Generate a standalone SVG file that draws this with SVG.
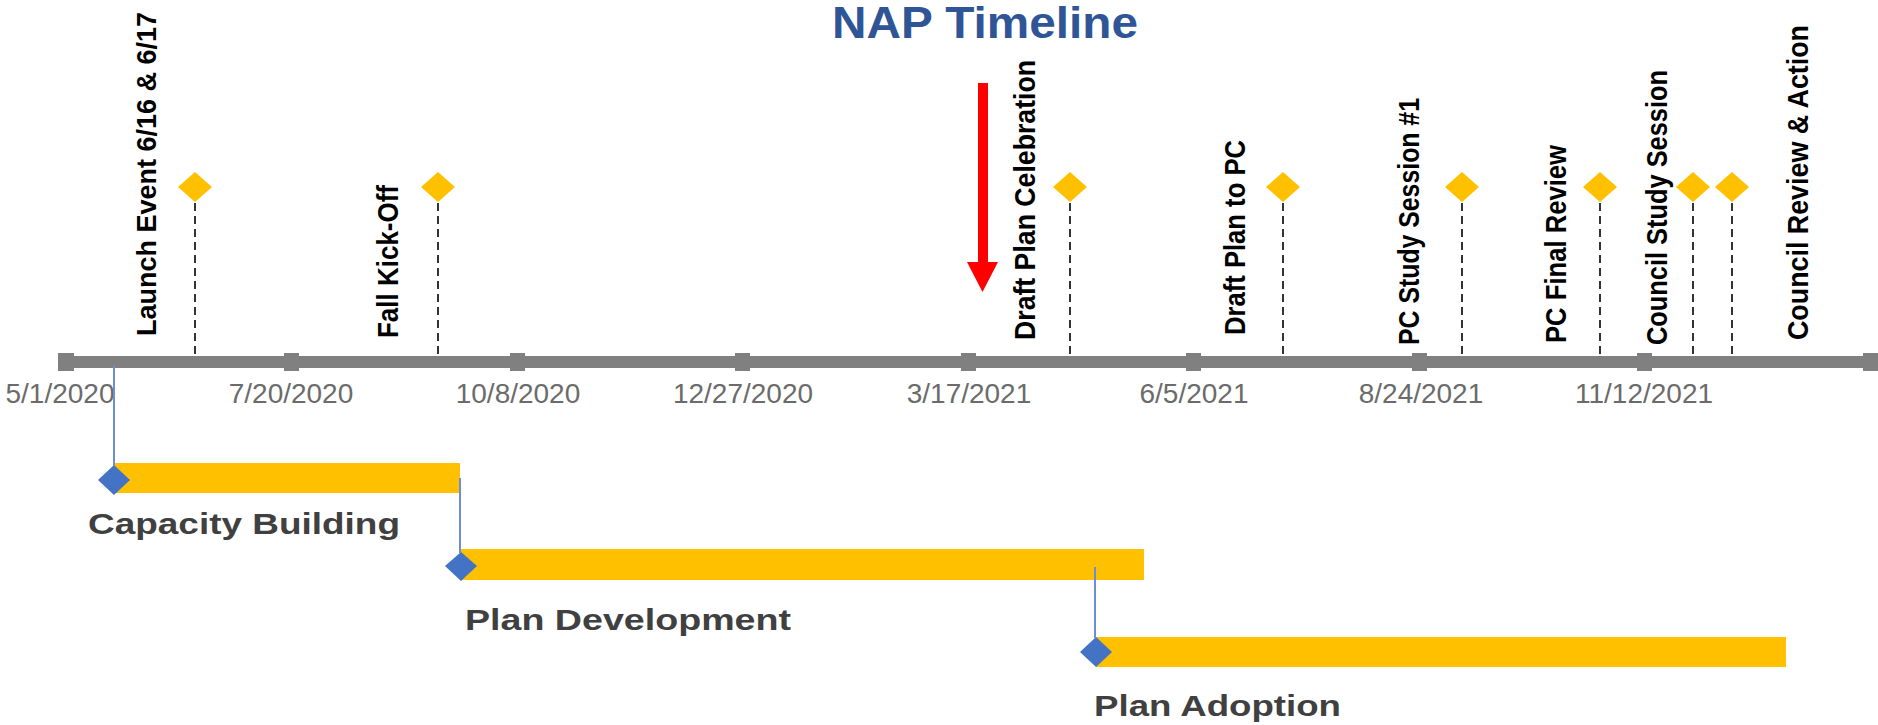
<svg xmlns="http://www.w3.org/2000/svg" width="1878" height="725" viewBox="0 0 1878 725">
<style>
.ev{font-family:"Liberation Sans",Arial,sans-serif;font-weight:bold;font-size:29px;fill:#000}
.dt{font-family:"Liberation Sans",Arial,sans-serif;font-size:28px;fill:#6b6b6b;text-anchor:middle}
.ph{font-family:"Liberation Sans",Arial,sans-serif;font-weight:bold;font-size:29px;fill:#404040}
.ttl{font-family:"Liberation Sans",Arial,sans-serif;font-weight:bold;font-size:45px;fill:#2F5597}
.gd{fill:#FFC000}
.bar{fill:#FFC000}
.bd{fill:#4472C4}
.tick{fill:#808080}
.dash{stroke:#333;stroke-width:2;stroke-dasharray:8 5;fill:none}
.bl{stroke:#6A8FD8;stroke-width:2;fill:none}
</style>
<rect width="1878" height="725" fill="#fff"/>
<g id="title"><text class="ttl" x="832" y="38" textLength="306" lengthAdjust="spacingAndGlyphs">NAP Timeline</text></g>
<g id="axis">
<rect x="58" y="356" width="1820" height="12" fill="#808080"/>
<rect class="tick" x="58" y="353" width="16" height="18"/>
<rect class="tick" x="284" y="353" width="15" height="18"/>
<rect class="tick" x="510" y="353" width="15" height="18"/>
<rect class="tick" x="735" y="353" width="15" height="18"/>
<rect class="tick" x="961" y="353" width="15" height="18"/>
<rect class="tick" x="1186" y="353" width="15" height="18"/>
<rect class="tick" x="1412" y="353" width="15" height="18"/>
<rect class="tick" x="1637" y="353" width="15" height="18"/>
<rect class="tick" x="1863" y="353" width="15" height="18"/>
<text class="dt" x="60" y="403">5/1/2020</text>
<text class="dt" x="291" y="403">7/20/2020</text>
<text class="dt" x="518" y="403">10/8/2020</text>
<text class="dt" x="743" y="403">12/27/2020</text>
<text class="dt" x="969" y="403">3/17/2021</text>
<text class="dt" x="1194" y="403">6/5/2021</text>
<text class="dt" x="1421" y="403">8/24/2021</text>
<text class="dt" x="1644" y="403">11/12/2021</text>
</g>
<g id="phase-capacity">
<rect class="bar" x="114" y="463" width="346" height="30"/>
<polygon class="bd" points="114,465 130,480 114,495 98,480"/>
<text class="ph" x="88" y="534" textLength="312" lengthAdjust="spacingAndGlyphs">Capacity Building</text>
</g>
<g id="phase-development">
<rect class="bar" x="461" y="549" width="683" height="31"/>
<polygon class="bd" points="461,552 477,566 461,581 445,566"/>
<text class="ph" x="465" y="630" textLength="326" lengthAdjust="spacingAndGlyphs">Plan Development</text>
</g>
<g id="phase-adoption">
<rect class="bar" x="1096" y="637" width="690" height="30"/>
<polygon class="bd" points="1096,637 1112,652 1096,667 1080,652"/>
<text class="ph" x="1094" y="716" textLength="247" lengthAdjust="spacingAndGlyphs">Plan Adoption</text>
</g>
<g id="connectors">
<line class="dash" x1="195" y1="203" x2="195" y2="356"/>
<line class="dash" x1="438" y1="203" x2="438" y2="356"/>
<line class="dash" x1="1070" y1="203" x2="1070" y2="356"/>
<line class="dash" x1="1283" y1="203" x2="1283" y2="356"/>
<line class="dash" x1="1462" y1="203" x2="1462" y2="356"/>
<line class="dash" x1="1600" y1="203" x2="1600" y2="356"/>
<line class="dash" x1="1693" y1="203" x2="1693" y2="356"/>
<line class="dash" x1="1732" y1="203" x2="1732" y2="356"/>
<line class="bl" x1="114" y1="366" x2="114" y2="466"/>
<line class="bl" x1="460" y1="478" x2="460" y2="553"/>
<line class="bl" x1="1095" y1="567" x2="1095" y2="638"/>
</g>
<g id="ev-launch">
<polygon class="gd" points="195,172 212,187 195,202 178,187"/>
<text class="ev" style="font-size:27px" transform="translate(156,336) rotate(-90)">Launch Event 6/16 &amp; 6/17</text>
</g>
<g id="ev-fall">
<polygon class="gd" points="438,172 455,187 438,202 421,187"/>
<text class="ev" transform="translate(398,338) rotate(-90)" textLength="153" lengthAdjust="spacingAndGlyphs">Fall Kick-Off</text>
</g>
<g id="ev-celebration">
<polygon class="gd" points="1070,172 1087,187 1070,202 1053,187"/>
<text class="ev" transform="translate(1035,340) rotate(-90)" textLength="280" lengthAdjust="spacingAndGlyphs">Draft Plan Celebration</text>
</g>
<g id="ev-draft-pc">
<polygon class="gd" points="1283,172 1300,187 1283,202 1266,187"/>
<text class="ev" transform="translate(1245,335) rotate(-90)" textLength="195" lengthAdjust="spacingAndGlyphs">Draft Plan to PC</text>
</g>
<g id="ev-pc-study">
<polygon class="gd" points="1462,172 1479,187 1462,202 1445,187"/>
<text class="ev" transform="translate(1419,345) rotate(-90)" textLength="247" lengthAdjust="spacingAndGlyphs">PC Study Session #1</text>
</g>
<g id="ev-pc-final">
<polygon class="gd" points="1600,172 1617,187 1600,202 1583,187"/>
<text class="ev" transform="translate(1566,343) rotate(-90)" textLength="198" lengthAdjust="spacingAndGlyphs">PC Final Review</text>
</g>
<g id="ev-council-study">
<polygon class="gd" points="1693,172 1710,187 1693,202 1676,187"/>
<polygon class="gd" points="1732,172 1749,187 1732,202 1715,187"/>
<text class="ev" transform="translate(1667,345) rotate(-90)" textLength="275" lengthAdjust="spacingAndGlyphs">Council Study Session</text>
</g>
<g id="ev-council-review">
<text class="ev" transform="translate(1808,340) rotate(-90)" textLength="315" lengthAdjust="spacingAndGlyphs">Council Review &amp; Action</text>
</g>
<g id="marker-arrow">
<rect x="978" y="83" width="10" height="180" fill="#FF0000"/>
<polygon points="967,262 998,262 982.5,292" fill="#FF0000"/>
</g>
</svg>
